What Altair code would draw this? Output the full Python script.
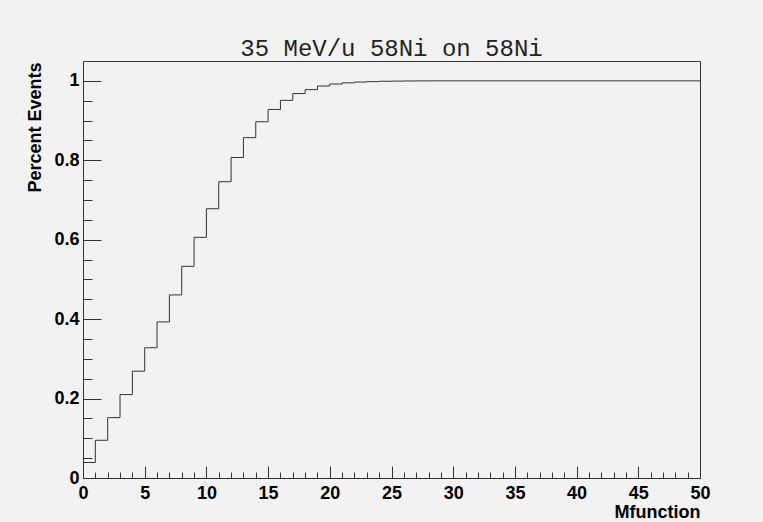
import altair as alt
import pandas as pd

# Bin lower edges (Mfunction) and cumulative fraction per bin
bin_edges = list(range(0, 51))
percent = [0.039, 0.095, 0.152, 0.210, 0.269, 0.328, 0.393, 0.461, 0.533, 0.606,
           0.678, 0.746, 0.807, 0.857, 0.897, 0.928, 0.951, 0.968, 0.978, 0.987,
           0.992, 0.995, 0.997, 0.998, 0.999, 0.9994, 0.9997, 0.9999, 1.0, 1.0,
           1.0, 1.0, 1.0, 1.0, 1.0, 1.0, 1.0, 1.0, 1.0, 1.0,
           1.0, 1.0, 1.0, 1.0, 1.0, 1.0, 1.0, 1.0, 1.0, 1.0]

x_major = [0, 5, 10, 15, 20, 25, 30, 35, 40, 45, 50]
x_minor = list(range(0, 51))
y_major = [0, 0.2, 0.4, 0.6, 0.8, 1.0]
y_minor = [0, 0.05, 0.1, 0.15, 0.2, 0.25, 0.3, 0.35, 0.4, 0.45, 0.5,
           0.55, 0.6, 0.65, 0.7, 0.75, 0.8, 0.85, 0.9, 0.95, 1.0]

title_text = "35 MeV/u 58Ni on 58Ni"
x_title = "Mfunction"
y_title = "Percent Events"

df = pd.DataFrame({"edge": bin_edges, "value": percent + [percent[-1]]})

W, H = 617, 417
INK = "#333333"
SANS = "Liberation Sans"

xs = alt.Scale(domain=[0, 50], nice=False, zero=False)
ys = alt.Scale(domain=[0, 1.05], nice=False, zero=False)

base = alt.Chart(df)

line = base.mark_line(interpolate="step-after", color=INK, strokeWidth=1).encode(
    x=alt.X("edge:Q", scale=xs, axis=alt.Axis(
        orient="bottom", values=x_major, format="d", ticks=False, domain=False, grid=False,
        labelFont=SANS, labelFontSize=18, labelFontWeight="bold", labelColor="black",
        labelPadding=6, labelFlush=False, labelOverlap=False,
        title=x_title, titleFont=SANS, titleFontSize=18, titleFontWeight="bold",
        titleColor="black", titleX=W, titleY=39, titleAlign="right",
        titleBaseline="alphabetic")),
    y=alt.Y("value:Q", scale=ys, axis=alt.Axis(
        orient="left", values=y_major, format="~g", ticks=False, domain=False, grid=False,
        labelFont=SANS, labelFontSize=18, labelFontWeight="bold", labelColor="black",
        labelPadding=4, labelFlush=False, labelOverlap=False,
        title=y_title, titleFont=SANS, titleFontSize=18, titleFontWeight="bold",
        titleColor="black", titleX=-43, titleY=1, titleAngle=270, titleAlign="right",
        titleBaseline="alphabetic")),
)

major = base.mark_line(opacity=0).encode(
    x=alt.X("edge:Q", scale=xs, axis=alt.Axis(
        orient="bottom", values=x_major, labels=False, domain=False, grid=False,
        title=None, offset=-12, tickSize=12, tickColor=INK, tickWidth=1)),
    y=alt.Y("value:Q", scale=ys, axis=alt.Axis(
        orient="left", values=y_major, labels=False, domain=False, grid=False,
        title=None, offset=-18, tickSize=18, tickColor=INK, tickWidth=1)),
)

minor = base.mark_line(opacity=0).encode(
    x=alt.X("edge:Q", scale=xs, axis=alt.Axis(
        orient="bottom", values=x_minor, labels=False, domain=False, grid=False,
        title=None, offset=-6, tickSize=6, tickColor=INK, tickWidth=1)),
    y=alt.Y("value:Q", scale=ys, axis=alt.Axis(
        orient="left", values=y_minor, labels=False, domain=False, grid=False,
        title=None, offset=-9, tickSize=9, tickColor=INK, tickWidth=1)),
)

chart = alt.layer(line, major, minor).resolve_axis(
    x="independent", y="independent"
).properties(
    width=W, height=H,
    title=alt.TitleParams(title_text, font="Liberation Mono", fontSize=24,
                          fontWeight="normal", color="#222222", anchor="middle",
                          offset=5, dy=24, baseline="alphabetic"),
    autosize=alt.AutoSizeParams(type="none"),
    padding={"left": 83, "top": 61, "right": 63, "bottom": 44},
    background="#f2f2f2",
).configure_view(
    stroke=INK, strokeWidth=1, fill="#f2f2f2"
)

chart.save("out.html", embed_options={"renderer": "svg", "actions": False})
